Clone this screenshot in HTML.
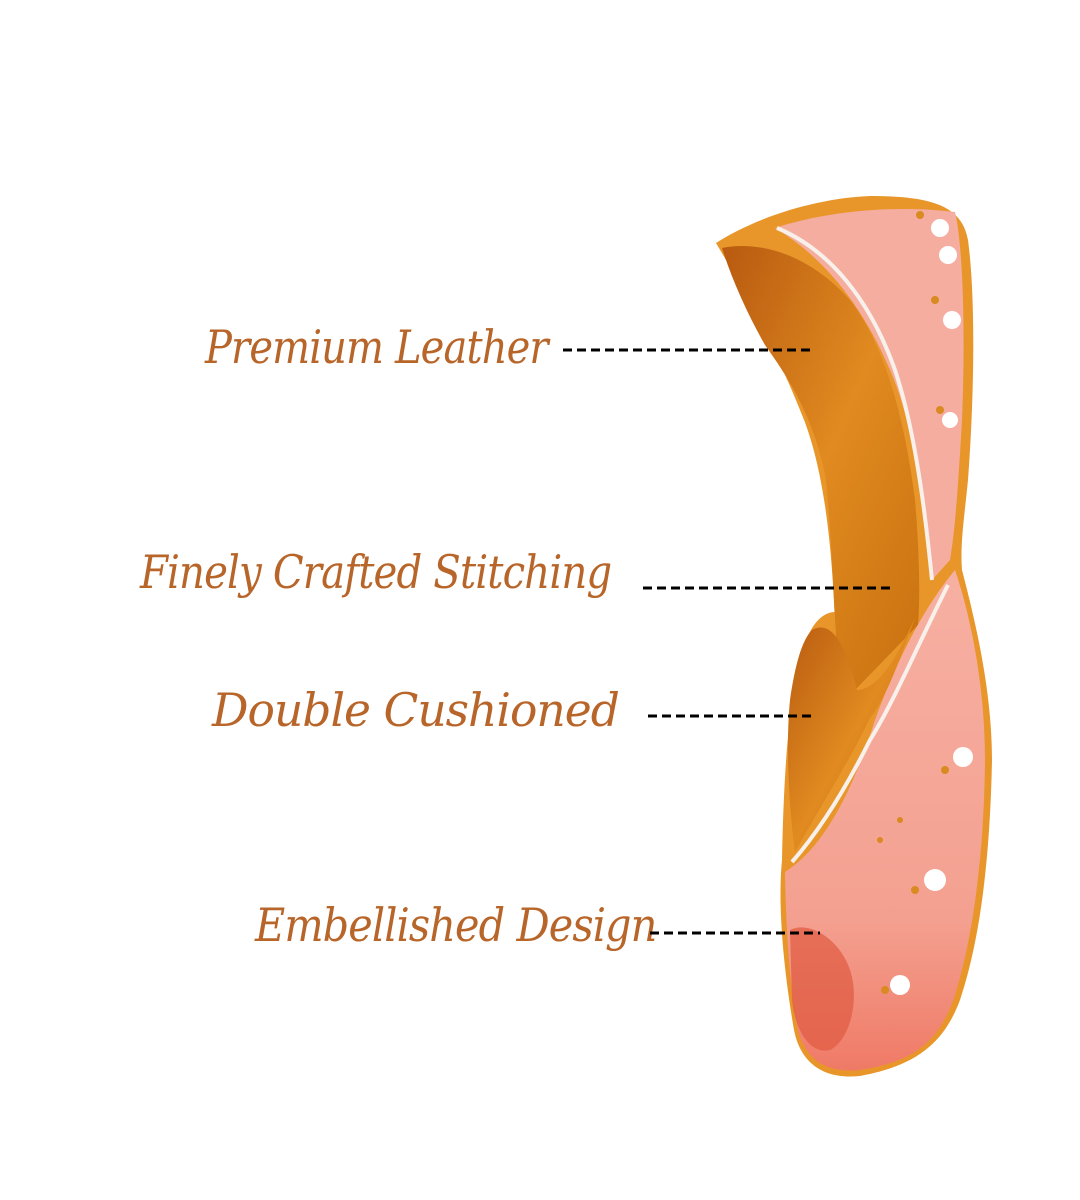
<!DOCTYPE html>
<html><head><meta charset="utf-8"><style>
html,body{margin:0;padding:0;background:#fff}
.w{position:relative;width:1080px;height:1200px;overflow:hidden;background:#fff}
.l{position:absolute;font-family:"DejaVu Serif","Liberation Serif",serif;font-style:italic;color:#b8652a;font-size:46px;white-space:nowrap;letter-spacing:-1px;transform-origin:0 0}
</style></head><body><div class="w">
<svg width="1080" height="1200" style="position:absolute;left:0;top:0">
<defs>
<linearGradient id="pk" x1="0" y1="0" x2="0" y2="1">
<stop offset="0" stop-color="#f6b0a2"/><stop offset="0.7" stop-color="#f4a090"/><stop offset="1" stop-color="#ef7a66"/></linearGradient>
<linearGradient id="in" x1="0" y1="0" x2="1" y2="1">
<stop offset="0" stop-color="#b85a10"/><stop offset="0.5" stop-color="#e08a20"/><stop offset="1" stop-color="#c8700f"/></linearGradient>
</defs>
<path d="M716,243 C760,215 820,198 870,196 C930,196 962,205 968,240 C976,300 974,400 968,480 C964,520 960,545 962,570 C975,620 992,690 992,760 C990,860 980,940 960,1000 C945,1040 920,1065 860,1076 C820,1080 800,1060 794,1030 C782,960 778,900 782,860 C784,760 790,680 808,636 C815,620 825,612 835,612 L836,660 C834,560 826,470 800,410 C780,360 750,300 716,243 Z" fill="#e8962a"/>
<path d="M775,228 C830,210 900,205 955,212 C962,240 966,320 962,420 C958,490 955,530 950,560 L932,580 C925,500 912,420 890,370 C860,300 820,255 775,228 Z" fill="#f5ad9f"/>
<path d="M722,248 C760,240 810,255 850,300 C885,345 905,420 915,500 C920,560 920,600 918,625 L857,688 L840,692 C834,620 832,540 826,480 C815,420 790,380 765,345 C748,315 732,280 722,248 Z" fill="url(#in)"/>
<path d="M955,570 C972,620 985,690 985,760 C984,860 972,940 955,995 C940,1040 915,1062 860,1070 C825,1074 805,1058 798,1030 C790,990 786,930 785,872 C820,850 850,800 875,720 C900,650 930,600 955,570 Z" fill="url(#pk)"/>
<path d="M812,630 C830,620 845,640 857,690 C880,690 900,650 915,618 C900,660 885,700 870,718 C850,760 830,790 795,852 C788,800 786,740 790,700 C795,665 802,640 812,630 Z" fill="url(#in)"/>
<path d="M777,228 C830,250 870,300 895,370 C915,430 925,510 932,580" stroke="#f8f0ea" stroke-width="4" fill="none"/>
<path d="M948,585 C920,640 895,700 870,740 C845,790 820,830 792,862" stroke="#f8f0ea" stroke-width="4" fill="none"/>
<g fill="#fff"><circle cx="940" cy="228" r="9"/><circle cx="948" cy="255" r="9"/><circle cx="952" cy="320" r="9"/><circle cx="950" cy="420" r="8"/><circle cx="963" cy="757" r="10"/><circle cx="935" cy="880" r="11"/><circle cx="900" cy="985" r="10"/></g>
<g fill="#d98a20"><circle cx="920" cy="215" r="4"/><circle cx="935" cy="300" r="4"/><circle cx="940" cy="410" r="4"/><circle cx="945" cy="770" r="4"/><circle cx="915" cy="890" r="4"/><circle cx="885" cy="990" r="4"/><circle cx="880" cy="840" r="3"/><circle cx="900" cy="820" r="3"/></g>
<path d="M790,930 C810,920 840,940 850,970 C860,1000 850,1040 830,1050 C810,1055 795,1030 792,1000 Z" fill="#e05a40" opacity="0.7"/>
</svg>
<div class="l" style="left:205px;top:320px;transform:scaleX(0.87)">Premium Leather</div>
<div class="l" style="left:140px;top:545px;transform:scaleX(0.875)">Finely Crafted Stitching</div>
<div class="l" style="left:212px;top:683px;transform:scaleX(0.99)">Double Cushioned</div>
<div class="l" style="left:255px;top:898px;transform:scaleX(0.9)">Embellished Design</div>
<svg width="1080" height="1200" style="position:absolute;left:0;top:0">
<g stroke="#000" stroke-width="3" stroke-dasharray="9,5">
<line x1="563" y1="350" x2="812" y2="350"/>
<line x1="643" y1="588" x2="895" y2="588"/>
<line x1="648" y1="716" x2="812" y2="716"/>
<line x1="650" y1="933" x2="820" y2="933"/>
</g></svg>
</div></body></html>
